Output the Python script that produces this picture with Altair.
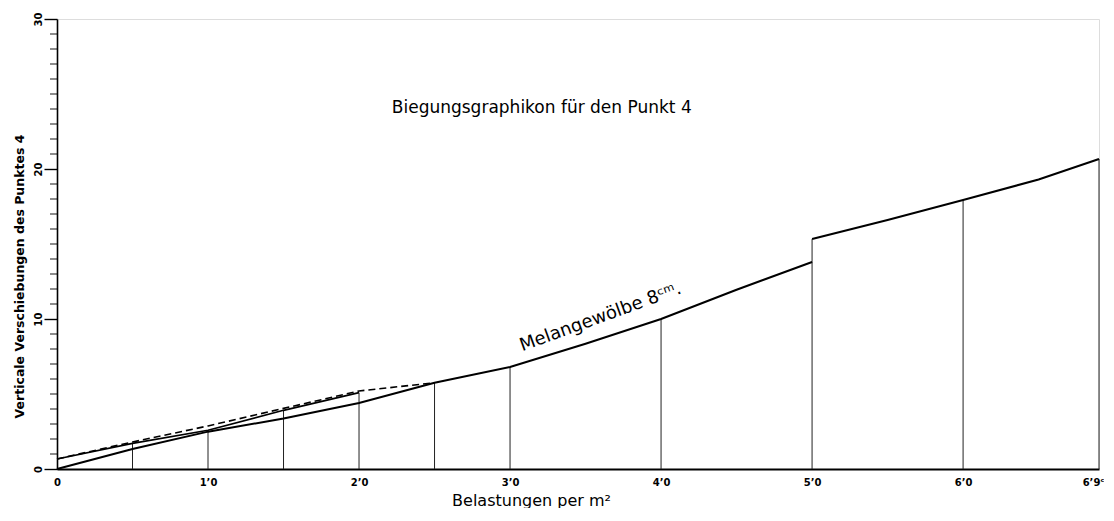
import altair as alt
import pandas as pd

# Main curve "Melangewölbe 8cm." (load in t per m², deflection); seg splits at the jump at 5.0
loads = [0, 0.5, 1.0, 1.5, 2.0, 2.5, 3.0, 3.5, 4.0, 4.5, 5.0, 5.0, 5.5, 6.0, 6.5, 6.9]
deflection = [0, 1.33, 2.49, 3.36, 4.4, 5.75, 6.8, 8.35, 10.0, 11.95, 13.8, 15.33, 16.6, 17.93, 19.3, 20.67]
segment = [1, 1, 1, 1, 1, 1, 1, 1, 1, 1, 1, 2, 2, 2, 2, 2]

# Second solid curve (starting at offset)
upper_loads = [0, 0.5, 1.0, 1.5, 2.0]
upper_defl = [0.67, 1.71, 2.58, 3.91, 5.09]

# Dashed curve
dashed_loads = [0, 0.5, 1.0, 1.5, 2.0, 2.5]
dashed_defl = [0.67, 1.8, 2.87, 4.04, 5.2, 5.75]

# Vertical ordinates
ord_loads = [0.5, 1.0, 1.5, 2.0, 2.5, 3.0, 4.0, 5.0, 6.0, 6.9]
ord_tops = [1.75, 2.6, 3.95, 5.09, 5.75, 6.8, 10.0, 15.33, 17.93, 20.67]

x_tick_values = [0, 1, 2, 3, 4, 5, 6, 6.9]
x_tick_labels = ["0", "1’0", "2’0", "3’0", "4’0", "5’0", "6’0", "6’9ᶜ"]
y_major_ticks = [0, 10, 20, 30]
y_minor_ticks = [1, 2, 3, 4, 5, 6, 7, 8, 9, 11, 12, 13, 14, 15, 16, 17, 18, 19,
                 21, 22, 23, 24, 25, 26, 27, 28, 29]

chart_title = "Biegungsgraphikon für den Punkt 4"
curve_label = "Melangewölbe 8ᶜᵐ."

main_df = pd.DataFrame({"load": loads, "defl": deflection, "seg": segment,
                        "idx": list(range(len(loads)))})
upper_df = pd.DataFrame({"load": upper_loads, "defl": upper_defl})
dashed_df = pd.DataFrame({"load": dashed_loads, "defl": dashed_defl})
ord_df = pd.DataFrame({"load": ord_loads, "defl": ord_tops})
minor_df = pd.DataFrame({"defl": y_minor_ticks})

FONT = "DejaVu Sans"

lab_arr = "[" + ",".join("'" + s + "'" for s in x_tick_labels) + "]"
val_arr = "[" + ",".join(str(v) for v in x_tick_values) + "]"

xs = alt.Scale(domain=[0, 6.9], nice=False, zero=False)
ys = alt.Scale(domain=[0, 30], nice=False)

x_axis = alt.Axis(
    values=x_tick_values,
    labelExpr=f"{lab_arr}[indexof({val_arr}, datum.value)]",
    ticks=False, grid=False, labelOverlap=False,
    domainColor="black", domainWidth=2,
    labelFont=FONT, labelFontSize=10, labelFontWeight="bold", labelColor="black",
    labelPadding=8,
    labelAlign=alt.condition("datum.value > 6.5", alt.value("right"), alt.value("center")),
    labelOffset=alt.condition("datum.value > 6.5", alt.value(5), alt.value(0)),
    title="Belastungen per m²", titleFont=FONT, titleFontSize=16, titleFontWeight="normal",
    titleColor="black", titlePadding=5, titleX=474,
)

y_axis = alt.Axis(
    values=y_major_ticks,
    labelOverlap=False,
    ticks=True, tickSize=13, tickColor="black", tickWidth=1.4, grid=False,
    domainColor="black", domainWidth=1.6,
    labelAngle=270, labelAlign="center", labelBaseline="bottom",
    labelFont=FONT, labelFontSize=10, labelFontWeight="bold", labelColor="black",
    labelPadding=1,
    title="Verticale Verschiebungen des Punktes 4", titleFont=FONT, titleFontSize=12.5,
    titleFontWeight="bold", titleColor="black", titlePadding=7, titleY=257,
)

X = alt.X("load:Q", scale=xs, axis=x_axis)
Y = alt.Y("defl:Q", scale=ys, axis=y_axis)

# minor ticks (every unit) pointing left from the y axis
minor_ticks = alt.Chart(minor_df).mark_tick(
    orient="horizontal", size=7, thickness=1.3, color="black", xOffset=-3.5
).encode(x=alt.datum(0), y=Y)

ordinates = alt.Chart(ord_df).mark_rule(color="#222", strokeWidth=1).encode(
    x=X, y=Y, y2=alt.datum(0)
)

main_line = alt.Chart(main_df).mark_line(color="black", strokeWidth=2).encode(
    x=X, y=Y, detail="seg:N", order="idx:Q"
)

upper_line = alt.Chart(upper_df).mark_line(color="black", strokeWidth=1.6).encode(x=X, y=Y)

dashed_line = alt.Chart(dashed_df).mark_line(
    color="black", strokeWidth=1.6, strokeDash=[7, 4]
).encode(x=X, y=Y)

title_text = alt.Chart(pd.DataFrame({"t": [chart_title]})).mark_text(
    font=FONT, fontSize=17, color="black", align="center", baseline="middle"
).encode(x=alt.datum(3.21), y=alt.datum(24.07), text="t:N")

curve_text = alt.Chart(pd.DataFrame({"t": [curve_label]})).mark_text(
    font=FONT, fontSize=18, color="black", align="center", baseline="middle", angle=340
).encode(x=alt.datum(3.6), y=alt.datum(10.1), text="t:N")

chart = alt.layer(
    ordinates, dashed_line, upper_line, main_line, minor_ticks,
    title_text, curve_text
).properties(
    width=1042, height=450,
    padding={"left": 5, "top": 4, "right": 0, "bottom": 0},
).configure_view(stroke=None).configure(background="white")

chart.save("out.html", embed_options={"renderer": "svg", "actions": False})
